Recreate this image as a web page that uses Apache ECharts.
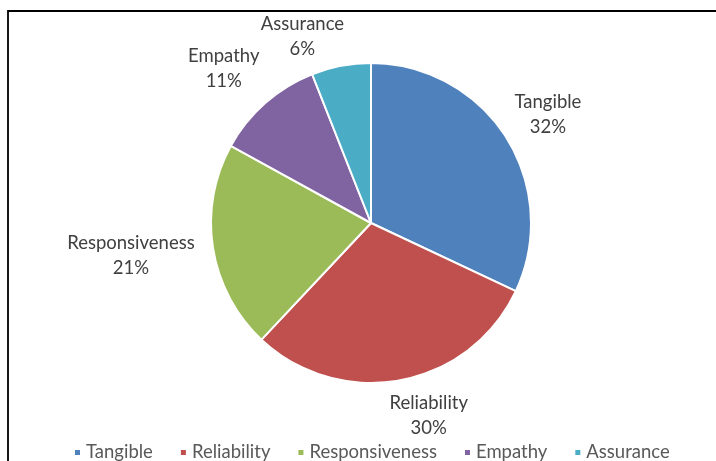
<!DOCTYPE html>
<html><head><meta charset="utf-8">
<script src="https://cdn.jsdelivr.net/npm/echarts@6/dist/echarts.min.js"></script>
<style>html,body{margin:0;padding:0;background:#fff}#c{width:716px;height:461px}</style>
</head><body><div id="c"></div>
<script>
const categories = ['Tangible', 'Reliability', 'Responsiveness', 'Empathy', 'Assurance'];
const values = [32, 30, 21, 11, 6];
const colors = ['#4f81bd', '#c0504d', '#9bbb59', '#8064a2', '#4bacc6'];
const labelGap = [46, 36, 78, 46, 30];
const labelShiftX = [-2, 16, 0, -6, -28];
const labelShiftY = [2, 0, -5, 0, 0];

const chart = echarts.init(document.getElementById('c'));
const font = 'Lato, "Open Sans", sans-serif';
chart.setOption({
  animation: false,
  graphic: [{
    type: 'rect', silent: true,
    shape: { x: 8, y: 11, width: 720, height: 470 },
    style: { fill: 'none', stroke: '#000', lineWidth: 1.8 }
  }],
  legend: {
    bottom: -6, left: 68,
    icon: 'rect', itemWidth: 7, itemHeight: 7, itemGap: 26,
    textStyle: { fontFamily: font, fontSize: 18.5, color: '#595959' },
    data: categories
  },
  series: [{
    type: 'pie',
    center: [371, 223],
    radius: 160,
    startAngle: 90,
    clockwise: true,
    avoidLabelOverlap: false,
    itemStyle: { borderColor: '#fff', borderWidth: 2 },
    label: {
      show: true, position: 'outside',
      formatter: '{b}\n{d}%',
      fontFamily: font, fontSize: 18.5, color: '#404040', lineHeight: 25
    },
    labelLine: { show: false, length2: 0 },
    labelLayout: function (p) {
      return { align: 'center', verticalAlign: 'middle', dx: labelShiftX[p.dataIndex], dy: labelShiftY[p.dataIndex] };
    },
    data: categories.map((n, i) => ({
      name: n, value: values[i],
      itemStyle: { color: colors[i] },
      labelLine: { show: false, length: labelGap[i], length2: 0 }
    }))
  }]
});
</script></body></html>
